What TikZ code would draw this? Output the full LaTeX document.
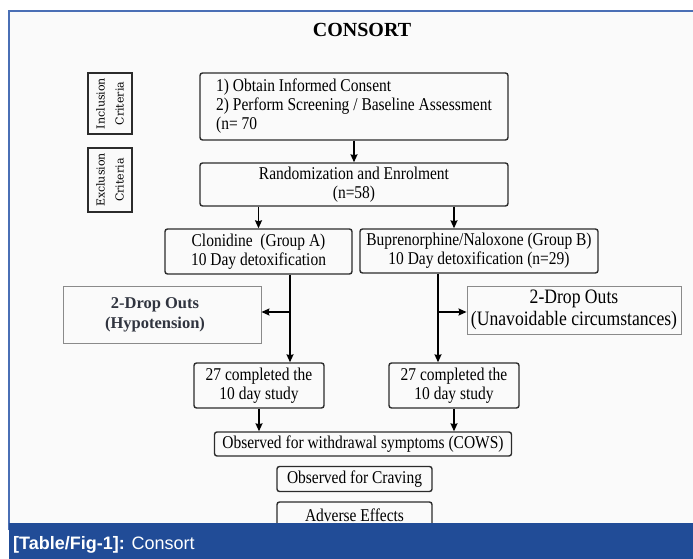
\documentclass[tikz,border=0pt]{standalone}
\usepackage{fontspec}
\setmainfont{Liberation Serif}
\newfontfamily\cond[FakeStretch=0.86]{Liberation Serif}
\newfontfamily\slab{DejaVu Serif}
\newfontfamily\capfont{Liberation Sans}
\usetikzlibrary{arrows.meta}
\definecolor{barblue}{HTML}{214C97}
\definecolor{frameblue}{HTML}{4A6FB5}
\definecolor{inkgrey}{HTML}{2B2B2B}
\definecolor{dropline}{HTML}{8A8A8A}
\definecolor{droptext}{HTML}{30343F}
\begin{document}
\begin{tikzpicture}[x=1pt,y=-1pt,
  mainbox/.style={draw=inkgrey, line width=1.4pt, rounded corners=2.5pt, inner sep=0pt,
    align=center, font=\cond\fontsize{18}{19}\selectfont},
  dropbox/.style={draw=dropline, line width=0.9pt, inner sep=0pt, align=center},
  sidebox/.style={draw=inkgrey, line width=1.2pt, inner sep=0pt, rotate=90, align=center,
    minimum height=44pt, font=\slab\fontsize{11}{19}\selectfont},
  arr/.style={draw=black, line width=1.4pt, -{Stealth[length=8pt,width=7pt,inset=1pt]}},
  plain/.style={draw=black, line width=1.4pt}]
\useasboundingbox (0,0) rectangle (693,559);
\fill[white] (0,0) rectangle (693,559);
\fill[black!2] (9,11) rectangle (693,523);
\draw[frameblue, line width=2pt] (9,530) -- (9,11) -- (693,11);

% title
\node[font=\bfseries\fontsize{20}{24}\selectfont] (title) at (362,30) {CONSORT};

% side labels
\node[sidebox, minimum width=61pt] (inc) at (110,103.5) {Inclusion\\Criteria};
\node[sidebox, minimum width=64pt] (exc) at (110,180) {Exclusion\\Criteria};

% main boxes
\node[mainbox, minimum width=308pt, minimum height=67pt, align=left] (b1) at (354,106.5)
  {1) Obtain Informed Consent\\2) Perform Screening / Baseline Assessment\\(n= 70};
\node[mainbox, minimum width=308pt, minimum height=43pt] (rand) at (354,184.5)
  {Randomization and Enrolment\\(n=58)};
\node[mainbox, minimum width=187pt, minimum height=45pt] (clon) at (258.5,251.5)
  {Clonidine~ (Group A)\\10 Day detoxification};
\node[mainbox, minimum width=238pt, minimum height=44pt] (bup) at (479,251)
  {Buprenorphine/Naloxone (Group B)\\10 Day detoxification (n=29)};

\node[dropbox, minimum width=198pt, minimum height=57pt,
  font=\bfseries\fontsize{16.5}{20}\selectfont, text=droptext] (dropl) at (162,314.5)
  {\hspace*{-14pt}2-Drop Outs\\\hspace*{-14pt}(Hypotension)};
\node[dropbox, minimum width=214pt, minimum height=48pt,
  font=\cond\fontsize{20.5}{22}\selectfont] (dropr) at (574,310)
  {2-Drop Outs\\(Unavoidable circumstances)};

\node[mainbox, minimum width=130pt, minimum height=45pt] (c27l) at (259,385.5)
  {27 completed the\\10 day study};
\node[mainbox, minimum width=130pt, minimum height=45pt] (c27r) at (454,385.5)
  {27 completed the\\10 day study};

\node[mainbox, minimum width=297pt, minimum height=24pt] (cows) at (363,444)
  {Observed for withdrawal symptoms (COWS)};
\node[mainbox, minimum width=155pt, minimum height=25pt] (crav) at (354.5,479)
  {Observed for Craving};
\node[mainbox, minimum width=155pt, minimum height=26pt] (adv) at (354.5,515)
  {Adverse Effects};

% connectors
\coordinate (lx) at (290,312);
\coordinate (rx) at (438,312);
\draw[arr] (b1.south) -- (rand.north);
\draw[arr] (rand.south -| clon) -- (clon.north);
\draw[arr] (rand.south -| c27r) -- (bup.north -| c27r);
\draw[arr] (clon.south -| lx) -- (c27l.north -| lx);
\draw[arr] (bup.south -| rx) -- (c27r.north -| rx);
\draw[arr] (lx) -- (dropl.east |- lx);
\draw[arr] (rx) -- (dropr.west |- rx);
\draw[arr] (c27l.south) -- (cows.north -| c27l);
\draw[arr] (c27r.south) -- (cows.north -| c27r);

% caption bar
\fill[barblue] (9,523) rectangle (693,559);
\node[anchor=west, text=white, font=\capfont\fontsize{18}{20}\selectfont, inner sep=0pt] (cap) at (13,545)
  {\textbf{[Table/Fig-1]:} Consort};
\end{tikzpicture}
\end{document}
